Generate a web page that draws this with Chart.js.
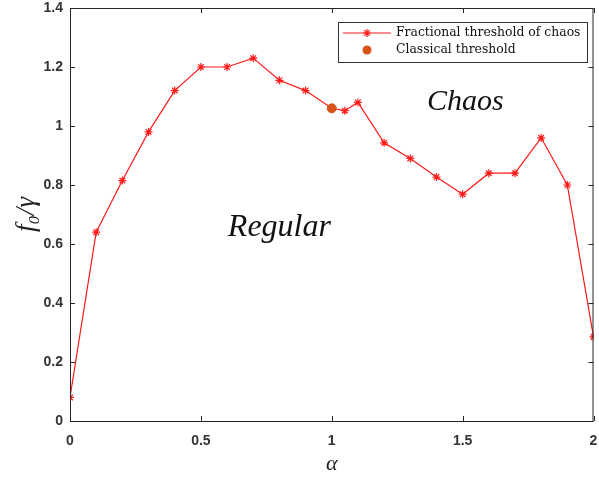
<!DOCTYPE html>
<html>
<head>
<meta charset="utf-8">
<script src="https://cdn.jsdelivr.net/npm/chart.js@4.4.1/dist/chart.umd.min.js"></script>
<style>
  html, body { margin: 0; padding: 0; background: #fff; }
  #wrap { width: 599px; height: 477px; }
</style>
</head>
<body>
<div id="wrap"><canvas id="c" width="599" height="477"></canvas></div>
<script>
// Fractional-order threshold of chaos f0/gamma versus alpha
const alphaValues = [0, 0.1, 0.2, 0.3, 0.4, 0.5, 0.6, 0.7, 0.8, 0.9, 1.0, 1.05, 1.1, 1.2, 1.3, 1.4, 1.5, 1.6, 1.7, 1.8, 1.9, 2.0];
const fractionalThreshold = [0.08, 0.64, 0.815, 0.98, 1.12, 1.2, 1.2, 1.23, 1.155, 1.12, 1.06, 1.052, 1.08, 0.943, 0.89, 0.827, 0.769, 0.84, 0.84, 0.96, 0.80, 0.285];
const classicalAlpha = [1.0];
const classicalThreshold = [1.06];
const xTicks = [0, 0.5, 1, 1.5, 2];
const yTicks = [0, 0.2, 0.4, 0.6, 0.8, 1, 1.2, 1.4];
const regionLabels = [
  { text: 'Chaos', x: 1.51, y: 1.082, size: 30 },
  { text: 'Regular', x: 0.80, y: 0.654, size: 32 }
];

const RED = '#ff1a1a';
const ORANGE = '#d95319';
const AXIS = '#262626';

// Box, inward tick marks, region names and a boxed legend
const framePlugin = {
  id: 'frame',
  afterDatasetsDraw(chart) {
    const { ctx, chartArea: a, scales: { x, y } } = chart;
    ctx.save();
    ctx.strokeStyle = AXIS;
    ctx.lineWidth = 1;
    ctx.strokeRect(a.left + 0.5, a.top + 0.5, a.right - a.left - 1, a.bottom - a.top);
    const t = 5;
    ctx.beginPath();
    xTicks.forEach(v => {
      const px = Math.round(x.getPixelForValue(v)) + 0.5;
      ctx.moveTo(px, a.bottom); ctx.lineTo(px, a.bottom - t);
      ctx.moveTo(px, a.top); ctx.lineTo(px, a.top + t);
    });
    yTicks.forEach(v => {
      const py = Math.round(y.getPixelForValue(v)) + 0.5;
      ctx.moveTo(a.left, py); ctx.lineTo(a.left + t, py);
      ctx.moveTo(a.right, py); ctx.lineTo(a.right - t, py);
    });
    ctx.stroke();

    // region names
    ctx.fillStyle = '#111';
    ctx.textAlign = 'center';
    ctx.textBaseline = 'middle';
    regionLabels.forEach(r => {
      ctx.font = 'italic ' + r.size + 'px "Liberation Serif", "DejaVu Serif", serif';
      ctx.fillText(r.text, x.getPixelForValue(r.x), y.getPixelForValue(r.y));
    });

    // legend
    const lx = 338, ly = 22, lw = 249, lh = 40;
    ctx.fillStyle = '#fff';
    ctx.fillRect(lx, ly, lw, lh);
    ctx.strokeStyle = '#333';
    ctx.lineWidth = 1;
    ctx.strokeRect(lx + 0.5, ly + 0.5, lw, lh);
    const ds = chart.data.datasets;
    const row1 = ly + 11, row2 = ly + 28;
    ctx.strokeStyle = RED;
    ctx.lineWidth = 1.2;
    ctx.beginPath();
    ctx.moveTo(lx + 5, row1); ctx.lineTo(lx + 53, row1);
    ctx.stroke();
    Chart.helpers.drawPoint(ctx, { pointStyle: 'star', radius: 4, borderWidth: 1.2 }, lx + 29, row1);
    ctx.fillStyle = ORANGE;
    ctx.beginPath();
    ctx.arc(lx + 29, row2, 4.5, 0, Math.PI * 2);
    ctx.fill();
    ctx.fillStyle = '#111';
    ctx.font = '12.4px "DejaVu Serif", "Liberation Serif", serif';
    ctx.textAlign = 'left';
    ctx.fillText(ds[0].label, lx + 58, row1);
    ctx.fillText(ds[1].label, lx + 58, row2);
    ctx.restore();
  }
};

const tickFont = { family: '"Liberation Sans", Arial, sans-serif', size: 14, weight: 'bold' };

new Chart(document.getElementById('c'), {
  type: 'scatter',
  data: {
    datasets: [
      {
        label: 'Fractional threshold of chaos',
        data: alphaValues.map((a, i) => ({ x: a, y: fractionalThreshold[i] })),
        showLine: true,
        borderColor: RED,
        borderWidth: 1.2,
        pointStyle: 'star',
        pointRadius: 4,
        pointBorderColor: RED,
        pointBorderWidth: 1.2,
        pointBackgroundColor: RED,
        order: 2
      },
      {
        label: 'Classical threshold',
        data: classicalAlpha.map((a, i) => ({ x: a, y: classicalThreshold[i] })),
        pointStyle: 'circle',
        pointRadius: 4.5,
        pointBackgroundColor: ORANGE,
        pointBorderColor: ORANGE,
        order: 1
      }
    ]
  },
  options: {
    responsive: false,
    animation: false,
    layout: { padding: { left: 0, right: -3, top: 8, bottom: 0 } },
    plugins: { legend: { display: false }, tooltip: { enabled: false } },
    scales: {
      x: {
        type: 'linear', min: 0, max: 2,
        afterBuildTicks: s => { s.ticks = xTicks.map(v => ({ value: v })); },
        grid: { display: false, drawTicks: false },
        border: { display: false },
        ticks: { padding: 12, color: '#333', font: tickFont, maxRotation: 0, callback: v => String(v) },
        title: {
          display: true, text: 'α', color: '#222',
          font: { family: '"Liberation Serif", serif', size: 22, style: 'italic' },
          padding: { top: 3, bottom: 0 }
        },
        afterFit: s => { s.height = 56; s.paddingLeft = 0; s.paddingRight = 0; }
      },
      y: {
        type: 'linear', min: 0, max: 1.4,
        afterBuildTicks: s => { s.ticks = yTicks.map(v => ({ value: v })); },
        grid: { display: false, drawTicks: false },
        border: { display: false },
        ticks: { padding: 7, color: '#333', font: tickFont, callback: v => String(+v.toFixed(1)) },
        title: {
          display: true, text: 'f₀/γ', color: '#222',
          font: { family: '"Liberation Serif", serif', size: 27, style: 'italic' },
          padding: { top: 11, bottom: 0 }
        },
        afterFit: s => { s.width = 70; s.paddingTop = 0; s.paddingBottom = 0; }
      }
    }
  },
  plugins: [framePlugin]
});
</script>
</body>
</html>
